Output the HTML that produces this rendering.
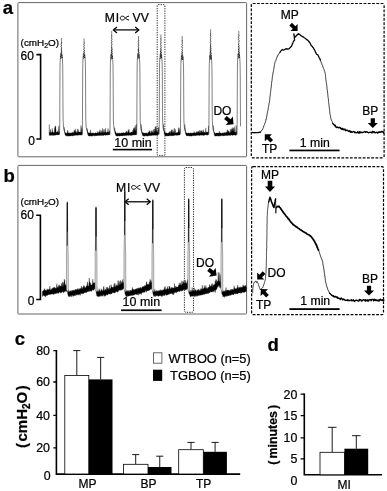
<!DOCTYPE html><html><head><meta charset="utf-8"><title>figure</title>
<style>html,body{margin:0;padding:0;background:#fff}svg{display:block;will-change:transform}text{font-family:"Liberation Sans",sans-serif;fill:#000;stroke:#000;stroke-width:0.22px}</style></head><body>
<svg width="387" height="491" viewBox="0 0 387 491">
<rect width="387" height="491" fill="#fff"/>
<rect x="17.9" y="2.6" width="228.7" height="154.2" rx="0.8" fill="none" stroke="#666" stroke-width="1"/>
<text x="2.7" y="13.8" font-size="18.5" font-weight="bold">a</text>
<text x="20.6" y="46" font-size="9.3" textLength="38.5" lengthAdjust="spacingAndGlyphs">(cmH<tspan font-size="6.5" dy="2">2</tspan><tspan dy="-2">O)</tspan></text>
<text x="20.6" y="59.5" font-size="12">60</text>
<text x="28.2" y="145.2" font-size="12">0</text>
<path d="M36.4 54.6 H40.6 V139 H36.4" fill="none" stroke="#000" stroke-width="1.6"/>
<text x="104.8" y="22.3" font-size="12.2" letter-spacing="0.7">MI</text><path d="M129.1 16.15 C127.45 16.15 126.35 17.23 125.36 18.1 C124.26 19.18 123.49 20.05 122.39 20.05 C120.96 20.05 120.3 19.11 120.3 18.1 C120.3 17.09 120.96 16.15 122.39 16.15 C123.49 16.15 124.26 17.02 125.36 18.1 C126.35 18.97 127.45 20.05 129.1 20.05" fill="none" stroke="#000" stroke-width="1"/><text x="132.5" y="22.3" font-size="12.2">VV</text>
<path d="M113.7 29.9 H138.5" stroke="#000" stroke-width="1.25" fill="none"/><path d="M117 26.9 L113.4 29.9 L117 32.9" stroke="#000" stroke-width="1.25" fill="none"/><path d="M135.2 26.9 L138.8 29.9 L135.2 32.9" stroke="#000" stroke-width="1.25" fill="none"/>
<text x="114.3" y="147.1" font-size="12" textLength="37.5" lengthAdjust="spacingAndGlyphs">10 min</text>
<rect x="112.8" y="148.8" width="39.2" height="1.6" fill="#000"/>
<rect x="157.2" y="4.6" width="7.7" height="150.8" rx="1" fill="none" stroke="#333" stroke-width="1" stroke-dasharray="1.3 1.1"/>
<text x="213.4" y="115.2" font-size="12">DO</text>
<path d="M224.09 119.02 L228.08 122.36 L225.83 125.04 L233.5 124.3 L232.9 116.62 L230.65 119.3 L226.67 115.95Z" fill="#000"/>
<path d="M49.2 132.62 L49.5 132.6 L49.8 132.84 L50.1 131.56 L50.4 129.13 L50.7 132.11 L51 132.83 L51.3 132.21 L51.6 132.54 L51.9 132.48 L52.2 128.21 L52.5 132.02 L52.8 131.62 L53.1 132.2 L53.4 132.53 L53.7 132.87 L54 132.43 L54.3 132.77 L54.6 127.34 L54.9 130.73 L55.2 125.83 L55.5 126.5 L55.8 126.48 L56.1 132.01 L56.4 132.52 L56.7 132.11 L57 132.47 L57.3 130.7 L57.6 132.09 L57.9 132.26 L58.2 132.13 L58.5 132.37 L58.8 125.81 L59.1 131.63 L59.4 131.65 L59.4 134.87 L59.1 134.62 L58.8 134.68 L58.5 134.65 L58.2 134.97 L57.9 134.91 L57.6 134.79 L57.3 134.85 L57 134.85 L56.7 134.76 L56.4 134.99 L56.1 134.94 L55.8 134.9 L55.5 135.28 L55.2 135.35 L54.9 134.89 L54.6 134.88 L54.3 135.28 L54 135.54 L53.7 135.01 L53.4 135.55 L53.1 135.17 L52.8 135.07 L52.5 135.51 L52.2 135.25 L51.9 135.39 L51.6 135.26 L51.3 135.1 L51 134.98 L50.7 135.44 L50.4 135.48 L50.1 135.07 L49.8 135.37 L49.5 135.37 L49.2 135.42Z" fill="#000" stroke="#000" stroke-width="0.25"/>
<path d="M64.2 127.1 L64.5 129.63 L64.8 130.64 L65.1 132.13 L65.4 132.61 L65.7 132.98 L66 133.37 L66.3 133.16 L66.6 133.24 L66.9 133.26 L67.2 133 L67.5 130.19 L67.8 130.38 L68.1 133.16 L68.4 132.69 L68.7 132.92 L69 132.95 L69.3 133.25 L69.6 132.77 L69.9 132.76 L70.2 133.18 L70.5 133.43 L70.8 132.68 L71.1 132.79 L71.4 132.67 L71.7 133.37 L72 133.16 L72.3 132.3 L72.6 132.15 L72.9 132.47 L73.2 132.45 L73.5 133.04 L73.8 132.37 L74.1 130.49 L74.4 132.38 L74.7 130.07 L75 132.83 L75.3 128.73 L75.6 131.27 L75.9 132.21 L76.2 132.46 L76.5 132.93 L76.8 131.44 L77.1 132.85 L77.4 132.3 L77.7 128.82 L78 132.66 L78.3 129.46 L78.6 132.14 L78.9 132.07 L79.2 131.91 L79.5 132.05 L79.8 132.11 L80.1 132.13 L80.4 131.77 L80.7 132.41 L81 125.24 L81.3 131.65 L81.6 131.79 L81.9 127.52 L82.2 131.94 L82.2 134.98 L81.9 134.72 L81.6 134.73 L81.3 135.22 L81 135.07 L80.7 135.1 L80.4 134.94 L80.1 135.26 L79.8 135.31 L79.5 134.79 L79.2 134.78 L78.9 135.02 L78.6 135.14 L78.3 134.92 L78 134.83 L77.7 135.32 L77.4 135.33 L77.1 135.33 L76.8 135.5 L76.5 135.04 L76.2 135.19 L75.9 135.02 L75.6 135.34 L75.3 135.39 L75 135.23 L74.7 135.3 L74.4 135.73 L74.1 135.38 L73.8 135.81 L73.5 135.52 L73.2 135.48 L72.9 135.74 L72.6 135.79 L72.3 135.99 L72 135.86 L71.7 135.82 L71.4 135.49 L71.1 135.86 L70.8 135.99 L70.5 135.95 L70.2 135.93 L69.9 135.94 L69.6 135.85 L69.3 136.05 L69 136.13 L68.7 136.22 L68.4 135.65 L68.1 136.11 L67.8 136.27 L67.5 135.62 L67.2 136.07 L66.9 136.21 L66.6 135.98 L66.3 135.61 L66 135.56 L65.7 135.73 L65.4 135.21 L65.1 134.79 L64.8 133.8 L64.5 132.33 L64.2 129.22Z" fill="#000" stroke="#000" stroke-width="0.25"/>
<path d="M87 128.24 L87.3 129.76 L87.6 131.06 L87.9 132.06 L88.2 132.35 L88.5 132.72 L88.8 133.12 L89.1 133.03 L89.4 133.12 L89.7 132.87 L90 132.87 L90.3 133.13 L90.6 129.77 L90.9 133.18 L91.2 133.14 L91.5 133.58 L91.8 132.77 L92.1 133.2 L92.4 132.88 L92.7 133.31 L93 132.75 L93.3 133.54 L93.6 132.93 L93.9 132.97 L94.2 133.39 L94.5 133.3 L94.8 133.11 L95.1 133.28 L95.4 132.83 L95.7 132.83 L96 132.68 L96.3 133.04 L96.6 133.1 L96.9 133.16 L97.2 133.02 L97.5 132.85 L97.8 131.34 L98.1 132.57 L98.4 133.06 L98.7 132.69 L99 131.64 L99.3 131.86 L99.6 132.91 L99.9 129.6 L100.2 131.02 L100.5 132.58 L100.8 133.01 L101.1 132.85 L101.4 130.53 L101.7 132.97 L102 132.33 L102.3 132.59 L102.6 128.18 L102.9 132.26 L103.2 132.55 L103.5 132.27 L103.8 130.34 L104.1 128.97 L104.4 132.29 L104.7 132.24 L105 132.31 L105.3 131.9 L105.6 128.18 L105.9 132.1 L106.2 132.7 L106.5 132.64 L106.8 132.21 L107.1 132.17 L107.4 131.93 L107.7 131.95 L108 128.39 L108.3 132.03 L108.6 132.18 L108.9 132.2 L109.2 132 L109.5 130.62 L109.8 132.3 L109.8 134.97 L109.5 134.48 L109.2 134.7 L108.9 134.73 L108.6 134.93 L108.3 134.63 L108 134.94 L107.7 134.67 L107.4 134.71 L107.1 135.38 L106.8 135.06 L106.5 134.9 L106.2 134.88 L105.9 134.94 L105.6 135.47 L105.3 135.25 L105 135.19 L104.7 135.07 L104.4 135.01 L104.1 134.87 L103.8 135.39 L103.5 135.43 L103.2 135.54 L102.9 135.47 L102.6 135.5 L102.3 135.37 L102 135.57 L101.7 135.61 L101.4 135.13 L101.1 135.33 L100.8 135.52 L100.5 135.34 L100.2 135.59 L99.9 135.14 L99.6 135.68 L99.3 135.51 L99 135.2 L98.7 135.62 L98.4 135.52 L98.1 135.82 L97.8 135.69 L97.5 135.78 L97.2 135.32 L96.9 135.44 L96.6 136 L96.3 135.55 L96 135.92 L95.7 135.98 L95.4 135.77 L95.1 135.57 L94.8 135.74 L94.5 135.85 L94.2 135.86 L93.9 135.6 L93.6 135.77 L93.3 135.7 L93 135.67 L92.7 135.73 L92.4 136.24 L92.1 135.71 L91.8 136.28 L91.5 136.02 L91.2 135.99 L90.9 135.93 L90.6 136.07 L90.3 135.78 L90 136.32 L89.7 136.26 L89.4 135.84 L89.1 135.97 L88.8 135.8 L88.5 135.64 L88.2 135.63 L87.9 135.03 L87.6 133.87 L87.3 132.6 L87 130.83Z" fill="#000" stroke="#000" stroke-width="0.25"/>
<path d="M114.6 127.46 L114.9 129.59 L115.2 130.95 L115.5 131.65 L115.8 132.12 L116.1 132.69 L116.4 133.49 L116.7 133.42 L117 133.5 L117.3 133.22 L117.6 133.26 L117.9 132.74 L118.2 133.43 L118.5 132.94 L118.8 133.4 L119.1 133.1 L119.4 133.46 L119.7 132.79 L120 133.55 L120.3 133.03 L120.6 133.51 L120.9 133.06 L121.2 133.11 L121.5 132.84 L121.8 133.38 L122.1 132.77 L122.4 133.21 L122.7 132.83 L123 132.9 L123.3 132.98 L123.6 132.55 L123.9 132.8 L124.2 133.02 L124.5 133.07 L124.8 132.96 L125.1 132.96 L125.4 132.54 L125.7 132.53 L126 132.3 L126.3 131.13 L126.6 131 L126.9 132.76 L127.2 132.72 L127.5 132.33 L127.8 132.53 L128.1 130.14 L128.4 132.51 L128.7 130.03 L129 129.16 L129.3 132.14 L129.6 132.81 L129.9 132.7 L130.2 132.44 L130.5 132.59 L130.8 132.43 L131.1 132.22 L131.4 132.1 L131.7 132.1 L132 131.95 L132.3 132.15 L132.6 132.39 L132.9 129.83 L133.2 132.35 L133.5 128.17 L133.8 128.42 L134.1 130.43 L134.4 127.26 L134.7 129.28 L135 127.98 L135.3 125.21 L135.6 131.72 L135.9 130.06 L136.2 131.63 L136.5 124.1 L136.5 134.81 L136.2 135.04 L135.9 134.85 L135.6 134.78 L135.3 134.9 L135 135.12 L134.7 134.78 L134.4 134.8 L134.1 135.3 L133.8 134.82 L133.5 134.93 L133.2 134.94 L132.9 135.02 L132.6 134.87 L132.3 135.35 L132 135.26 L131.7 135.41 L131.4 135.31 L131.1 135.5 L130.8 135.25 L130.5 135.57 L130.2 135.44 L129.9 135.08 L129.6 135.46 L129.3 135.01 L129 135.03 L128.7 135.55 L128.4 135.4 L128.1 135.21 L127.8 135.16 L127.5 135.43 L127.2 135.2 L126.9 135.34 L126.6 135.73 L126.3 135.34 L126 135.79 L125.7 135.57 L125.4 135.45 L125.1 135.31 L124.8 135.74 L124.5 135.72 L124.2 135.83 L123.9 135.65 L123.6 135.39 L123.3 135.62 L123 135.91 L122.7 136.11 L122.4 136.01 L122.1 135.62 L121.8 136.06 L121.5 136.1 L121.2 135.68 L120.9 136 L120.6 135.64 L120.3 135.66 L120 135.8 L119.7 136.23 L119.4 135.8 L119.1 136.08 L118.8 136.12 L118.5 136.08 L118.2 135.72 L117.9 136.31 L117.6 136.18 L117.3 135.81 L117 135.93 L116.7 135.64 L116.4 136.03 L116.1 136.15 L115.8 135.47 L115.5 134.69 L115.2 134.07 L114.9 133.14 L114.6 130.79Z" fill="#000" stroke="#000" stroke-width="0.25"/>
<path d="M141.3 124.42 L141.6 129.5 L141.9 130.84 L142.2 131.99 L142.5 132.35 L142.8 133.29 L143.1 132.85 L143.4 132.8 L143.7 133.33 L144 133.15 L144.3 133.06 L144.6 132.88 L144.9 133.51 L145.2 133.1 L145.5 132.84 L145.8 133.51 L146.1 132.93 L146.4 133.47 L146.7 132.68 L147 133.52 L147.3 133.3 L147.6 133.48 L147.9 133.28 L148.2 132.09 L148.5 132.25 L148.8 132.73 L149.1 130.5 L149.4 131.12 L149.7 132.67 L150 131.37 L150.3 133.1 L150.6 133.15 L150.9 132.72 L151.2 130.44 L151.5 133.11 L151.8 132.21 L152.1 130.56 L152.4 132.45 L152.7 132.55 L153 132.43 L153.3 129.24 L153.6 132.8 L153.9 132.44 L154.2 132.7 L154.5 129.04 L154.8 132.2 L155.1 126.68 L155.4 132.66 L155.7 126.47 L156 131.83 L156.3 126.59 L156.6 132.46 L156.9 131.15 L157.2 132.46 L157.5 132 L157.8 131.9 L158.1 127.63 L158.4 132.38 L158.7 127.3 L158.7 134.84 L158.4 134.78 L158.1 134.55 L157.8 134.83 L157.5 134.81 L157.2 135.31 L156.9 135.03 L156.6 135.08 L156.3 135.28 L156 135.3 L155.7 135.14 L155.4 135.41 L155.1 135.13 L154.8 135.06 L154.5 134.91 L154.2 135.54 L153.9 135.4 L153.6 135.43 L153.3 135.34 L153 135.09 L152.7 135.56 L152.4 135.11 L152.1 135.08 L151.8 135.65 L151.5 135.4 L151.2 135.42 L150.9 135.64 L150.6 135.86 L150.3 135.33 L150 135.69 L149.7 135.43 L149.4 135.43 L149.1 135.87 L148.8 135.62 L148.5 135.89 L148.2 135.82 L147.9 135.9 L147.6 136.19 L147.3 135.91 L147 135.8 L146.7 136.13 L146.4 135.84 L146.1 135.83 L145.8 135.8 L145.5 135.81 L145.2 135.96 L144.9 136.17 L144.6 135.88 L144.3 136.19 L144 135.91 L143.7 136.07 L143.4 136.14 L143.1 135.55 L142.8 135.91 L142.5 135.26 L142.2 134.46 L141.9 133.49 L141.6 132.4 L141.3 129.36Z" fill="#000" stroke="#000" stroke-width="0.25"/>
<path d="M163.5 124.12 L163.8 127.62 L164.1 129.9 L164.4 131.16 L164.7 131.8 L165 132.17 L165.3 133.13 L165.6 133.06 L165.9 132.74 L166.2 132.91 L166.5 133.03 L166.8 133.04 L167.1 133.17 L167.4 133.53 L167.7 133.36 L168 133.36 L168.3 132.69 L168.6 133.17 L168.9 132.86 L169.2 132.13 L169.5 131.7 L169.8 133.19 L170.1 131.03 L170.4 133.39 L170.7 133.13 L171 131.23 L171.3 129.73 L171.6 129.95 L171.9 132.4 L172.2 132.14 L172.5 132.57 L172.8 129.41 L173.1 130.84 L173.4 131.48 L173.7 132.89 L174 132.73 L174.3 127.98 L174.6 132.41 L174.9 132.89 L175.2 128.94 L175.5 132.66 L175.8 132.81 L176.1 132.64 L176.4 132.66 L176.7 132.77 L177 132.43 L177.3 132.58 L177.6 132.39 L177.9 132.22 L178.2 132.05 L178.5 127.73 L178.8 132.39 L179.1 127.64 L179.4 132.34 L179.7 132.48 L180 129.67 L180 135.09 L179.7 134.93 L179.4 134.95 L179.1 135.13 L178.8 134.91 L178.5 135.18 L178.2 135.03 L177.9 135.04 L177.6 135.18 L177.3 135.14 L177 135.42 L176.7 135.13 L176.4 135.46 L176.1 135.05 L175.8 135.09 L175.5 135.09 L175.2 135.32 L174.9 135.66 L174.6 135.2 L174.3 135.2 L174 135.53 L173.7 135.56 L173.4 135.63 L173.1 135.47 L172.8 135.69 L172.5 135.45 L172.2 135.88 L171.9 135.43 L171.6 135.65 L171.3 135.98 L171 135.71 L170.7 135.76 L170.4 135.46 L170.1 135.74 L169.8 135.53 L169.5 135.5 L169.2 136.08 L168.9 135.93 L168.6 136.11 L168.3 136.03 L168 135.62 L167.7 135.79 L167.4 136.06 L167.1 135.93 L166.8 135.62 L166.5 136.09 L166.2 136.19 L165.9 135.77 L165.6 135.91 L165.3 135.92 L165 135.52 L164.7 134.82 L164.4 134.21 L164.1 132.77 L163.8 130.33 L163.5 126.87Z" fill="#000" stroke="#000" stroke-width="0.25"/>
<path d="M184.8 124.45 L185.1 127.87 L185.4 130.42 L185.7 131.29 L186 132.4 L186.3 132.69 L186.6 133.34 L186.9 132.86 L187.2 133.47 L187.5 132.92 L187.8 133.31 L188.1 133.61 L188.4 132.76 L188.7 132.98 L189 132.85 L189.3 133.38 L189.6 133.62 L189.9 132.98 L190.2 133.14 L190.5 132.78 L190.8 132.72 L191.1 133.23 L191.4 133.26 L191.7 133.02 L192 133.18 L192.3 132.81 L192.6 133.32 L192.9 133.28 L193.2 133.16 L193.5 132.8 L193.8 133.04 L194.1 131.58 L194.4 133.1 L194.7 132.67 L195 133.15 L195.3 132.58 L195.6 133.22 L195.9 133.15 L196.2 132.51 L196.5 132.83 L196.8 131.24 L197.1 132.76 L197.4 132.49 L197.7 131.64 L198 132.45 L198.3 131.17 L198.6 131.04 L198.9 132.54 L199.2 132.77 L199.5 132.83 L199.8 129.87 L200.1 132.91 L200.4 130.84 L200.7 132.72 L201 132.53 L201.3 130.61 L201.6 132.79 L201.9 130.25 L202.2 132.58 L202.5 132.84 L202.8 131.55 L203.1 132.55 L203.4 129.72 L203.7 132.27 L204 132.29 L204.3 132.23 L204.6 132.4 L204.9 131.97 L205.2 132.7 L205.5 132.44 L205.8 127.82 L206.1 132.46 L206.4 132.3 L206.7 132.04 L207 132.1 L207.3 132.28 L207.6 132.27 L207.9 131.9 L208.2 132.35 L208.5 125.71 L208.5 134.72 L208.2 134.93 L207.9 135.19 L207.6 135.05 L207.3 134.82 L207 135.18 L206.7 135.01 L206.4 134.82 L206.1 134.68 L205.8 134.83 L205.5 134.97 L205.2 134.83 L204.9 135.02 L204.6 134.97 L204.3 135.23 L204 135.47 L203.7 135.5 L203.4 135.31 L203.1 135.48 L202.8 135.1 L202.5 135.24 L202.2 134.95 L201.9 135.41 L201.6 135.34 L201.3 135.01 L201 135.07 L200.7 135.08 L200.4 135.25 L200.1 135.29 L199.8 135.62 L199.5 135.5 L199.2 135.5 L198.9 135.61 L198.6 135.09 L198.3 135.24 L198 135.38 L197.7 135.21 L197.4 135.31 L197.1 135.52 L196.8 135.58 L196.5 135.35 L196.2 135.56 L195.9 135.84 L195.6 135.47 L195.3 135.77 L195 135.94 L194.7 135.5 L194.4 135.61 L194.1 135.55 L193.8 135.44 L193.5 136.02 L193.2 135.75 L192.9 135.61 L192.6 135.87 L192.3 135.66 L192 136.12 L191.7 136.17 L191.4 136.06 L191.1 136.05 L190.8 136.03 L190.5 135.88 L190.2 135.8 L189.9 135.8 L189.6 136.35 L189.3 135.95 L189 135.75 L188.7 135.68 L188.4 135.75 L188.1 135.99 L187.8 135.79 L187.5 135.67 L187.2 136.1 L186.9 135.72 L186.6 135.99 L186.3 135.41 L186 134.75 L185.7 134.33 L185.4 133.12 L185.1 130.46 L184.8 126.81Z" fill="#000" stroke="#000" stroke-width="0.25"/>
<path d="M213.3 125.49 L213.6 128.85 L213.9 130.88 L214.2 131.98 L214.5 132.3 L214.8 133.42 L215.1 133.54 L215.4 132.88 L215.7 133.39 L216 133.33 L216.3 132.89 L216.6 133.01 L216.9 132.93 L217.2 133.05 L217.5 133.64 L217.8 132.78 L218.1 133.27 L218.4 132.8 L218.7 132.98 L219 133.36 L219.3 131.14 L219.6 133.15 L219.9 132.84 L220.2 133.19 L220.5 132.64 L220.8 133.01 L221.1 133.32 L221.4 133.23 L221.7 133.14 L222 133.27 L222.3 133.17 L222.6 133.12 L222.9 132.52 L223.2 133.14 L223.5 133.1 L223.8 132.88 L224.1 133.18 L224.4 132.65 L224.7 132.41 L225 132.42 L225.3 133.13 L225.6 133.07 L225.9 132.09 L226.2 132.24 L226.5 132.35 L226.8 132.71 L227.1 129.67 L227.4 129.93 L227.7 131.47 L228 132.68 L228.3 131.3 L228.6 130.57 L228.9 132.3 L229.2 131.47 L229.5 132.82 L229.8 132.92 L230.1 132.63 L230.4 129.1 L230.7 132.79 L231 132.01 L231.3 128.55 L231.6 129.58 L231.9 131.94 L232.2 128.73 L232.5 132 L232.8 127.29 L233.1 132.14 L233.4 128.26 L233.7 127.86 L234 132.29 L234.3 131.84 L234.6 126.47 L234.9 131.74 L235.2 132.49 L235.5 132.37 L235.8 131.7 L236.1 125.31 L236.4 131.85 L236.7 132.05 L236.7 134.83 L236.4 134.67 L236.1 135.22 L235.8 135.13 L235.5 135.16 L235.2 135.3 L234.9 134.91 L234.6 135.17 L234.3 134.78 L234 135.11 L233.7 135.08 L233.4 135.01 L233.1 135.07 L232.8 135.17 L232.5 135.39 L232.2 135.26 L231.9 134.93 L231.6 135.07 L231.3 134.98 L231 135.03 L230.7 135.58 L230.4 135.52 L230.1 135.29 L229.8 135.28 L229.5 135.19 L229.2 135.43 L228.9 135.12 L228.6 135.21 L228.3 135.44 L228 135.47 L227.7 135.43 L227.4 135.53 L227.1 135.74 L226.8 135.63 L226.5 135.64 L226.2 135.11 L225.9 135.48 L225.6 135.38 L225.3 135.27 L225 135.68 L224.7 135.89 L224.4 135.4 L224.1 135.62 L223.8 135.82 L223.5 135.88 L223.2 135.64 L222.9 135.54 L222.6 135.39 L222.3 135.71 L222 135.84 L221.7 135.44 L221.4 135.79 L221.1 135.55 L220.8 136.06 L220.5 135.8 L220.2 135.98 L219.9 136.15 L219.6 135.84 L219.3 135.83 L219 136.13 L218.7 135.71 L218.4 136.33 L218.1 136.09 L217.8 135.74 L217.5 136.06 L217.2 135.81 L216.9 135.74 L216.6 136.08 L216.3 136.03 L216 136.16 L215.7 136.12 L215.4 135.88 L215.1 135.76 L214.8 136.18 L214.5 135.25 L214.2 134.57 L213.9 133.04 L213.6 131.27 L213.3 128.14Z" fill="#000" stroke="#000" stroke-width="0.25"/>
<path d="M49.3 124.5 V133.5" stroke="#222" stroke-width="0.6"/>
<path d="M59.6 134.2 L59.75 124.2 L59.85 100 L59.95 75 L60.1 62.39 L60.4 57.39 L60.75 53.39" fill="none" stroke="#000" stroke-width="0.5" stroke-linejoin="round"/>
<path d="M62.05 54.39 L62.4 58.39 L62.7 64.39 L62.85 78 L62.95 102 L63.1 120.2 L63.5 127.2 L64.1 130.7" fill="none" stroke="#000" stroke-width="0.5" stroke-linejoin="round"/>
<path d="M60.26 58.39 L62.45 57.54 L60.32 56.69 L62.31 55.84 L60.65 54.99 L62.18 54.14 L60.6 53.29 L62.16 52.44 L60.89 51.59 L62.05 50.74 L60.9 49.89 L61.99 49.04 L61.07 48.19 L61.66 47.34 L61.04 46.49 L61.56 45.64 L61.03 44.79 L61.55 43.94 L61.35 43.09 L61.63 42.24 L61.4 42" fill="none" stroke="#000" stroke-width="0.7" stroke-linejoin="round"/>
<path d="M61.4 42.5 V38" stroke="#000" stroke-width="0.5"/>
<path d="M82.3 134.2 L82.45 124.2 L82.55 100 L82.65 75 L82.8 62.23 L83.1 57.23 L83.45 53.23" fill="none" stroke="#000" stroke-width="0.5" stroke-linejoin="round"/>
<path d="M84.75 54.23 L85.1 58.23 L85.4 64.23 L85.55 78 L85.65 102 L85.8 120.2 L86.2 127.2 L86.8 130.7" fill="none" stroke="#000" stroke-width="0.5" stroke-linejoin="round"/>
<path d="M82.93 58.23 L85.08 57.38 L83.26 56.53 L85.02 55.68 L83.39 54.83 L84.74 53.98 L83.53 53.13 L84.67 52.28 L83.54 51.43 L84.76 50.58 L83.67 49.73 L84.45 48.88 L83.76 48.03 L84.42 47.18 L83.66 46.33 L84.3 45.48 L83.84 44.63 L84.31 43.78 L83.9 42.93 L84.1 42.5" fill="none" stroke="#000" stroke-width="0.7" stroke-linejoin="round"/>
<path d="M84.1 43 V38.5" stroke="#000" stroke-width="0.5"/>
<path d="M109.9 134.2 L110.05 124.2 L110.15 100 L110.25 75 L110.4 63.21 L110.7 58.21 L111.05 54.21" fill="none" stroke="#000" stroke-width="0.5" stroke-linejoin="round"/>
<path d="M112.35 55.21 L112.7 59.21 L113 65.21 L113.15 78 L113.25 102 L113.4 120.2 L113.8 127.2 L114.4 130.7" fill="none" stroke="#000" stroke-width="0.5" stroke-linejoin="round"/>
<path d="M110.69 59.21 L112.63 58.36 L110.6 57.51 L112.71 56.66 L110.78 55.81 L112.46 54.96 L110.75 54.11 L112.63 53.26 L110.97 52.41 L112.38 51.56 L110.92 50.71 L112.5 49.86 L111.14 49.01 L112.35 48.16 L111.12 47.31 L112.15 46.46 L111.2 45.61 L112.03 44.76 L111.33 43.91 L112.05 43.06 L111.45 42.21 L111.98 41.36 L111.41 40.51 L111.95 39.66 L111.61 38.81 L111.85 37.96 L111.59 37.11 L111.77 36.26 L111.6 35.41 L111.7 35" fill="none" stroke="#000" stroke-width="0.7" stroke-linejoin="round"/>
<path d="M111.7 35.5 V31" stroke="#000" stroke-width="0.5"/>
<path d="M136.7 134.2 L136.85 124.2 L136.95 100 L137.05 75 L137.2 62.57 L137.5 57.57 L137.85 53.57" fill="none" stroke="#000" stroke-width="0.5" stroke-linejoin="round"/>
<path d="M139.15 54.57 L139.5 58.57 L139.8 64.57 L139.95 78 L140.05 102 L140.2 120.2 L140.6 127.2 L141.2 130.7" fill="none" stroke="#000" stroke-width="0.5" stroke-linejoin="round"/>
<path d="M137.54 58.57 L139.45 57.72 L137.64 56.87 L139.47 56.02 L137.62 55.17 L139.45 54.32 L137.7 53.47 L139.29 52.62 L137.86 51.77 L139.11 50.92 L137.79 50.07 L139.01 49.22 L137.95 48.37 L138.92 47.52 L138.24 46.67 L138.79 45.82 L138.24 44.97 L138.83 44.12 L138.19 43.27 L138.68 42.42 L138.22 41.57 L138.76 40.72 L138.5 40" fill="none" stroke="#000" stroke-width="0.7" stroke-linejoin="round"/>
<path d="M138.5 40.5 V36" stroke="#000" stroke-width="0.5"/>
<path d="M159.1 134.2 L159.25 124.2 L159.35 100 L159.45 75 L159.6 62.5 L159.9 57.5 L160.25 53.5" fill="none" stroke="#000" stroke-width="0.5" stroke-linejoin="round"/>
<path d="M161.55 54.5 L161.9 58.5 L162.2 64.5 L162.35 78 L162.45 102 L162.6 120.2 L163 127.2 L163.6 130.7" fill="none" stroke="#000" stroke-width="0.5" stroke-linejoin="round"/>
<path d="M159.81 58.5 L161.87 57.65 L160.02 56.8 L161.93 55.95 L160.05 55.1 L161.75 54.25 L159.99 53.4 L161.76 52.55 L160.08 51.7 L161.51 50.85 L160.25 50 L161.53 49.15 L160.43 48.3 L161.34 47.45 L160.58 46.6 L161.44 45.75 L160.39 44.9 L161.26 44.05 L160.6 43.2 L161.11 42.35 L160.67 41.5 L161.03 40.65 L160.8 39.8 L161.06 38.95 L160.9 38.5" fill="none" stroke="#000" stroke-width="0.7" stroke-linejoin="round"/>
<path d="M160.9 39 V34.5" stroke="#000" stroke-width="0.5"/>
<path d="M180.4 134.2 L180.55 124.2 L180.65 100 L180.75 75 L180.9 63.94 L181.2 58.94 L181.55 54.94" fill="none" stroke="#000" stroke-width="0.5" stroke-linejoin="round"/>
<path d="M182.85 55.94 L183.2 59.94 L183.5 65.94 L183.65 78 L183.75 102 L183.9 120.2 L184.3 127.2 L184.9 130.7" fill="none" stroke="#000" stroke-width="0.5" stroke-linejoin="round"/>
<path d="M181.27 59.94 L183.37 59.09 L181.19 58.24 L183.22 57.39 L181.37 56.54 L183.09 55.69 L181.56 54.84 L182.81 53.99 L181.49 53.14 L182.82 52.29 L181.64 51.44 L182.68 50.59 L181.82 49.74 L182.59 48.89 L181.72 48.04 L182.49 47.19 L181.81 46.34 L182.59 45.49 L181.79 44.64 L182.35 43.79 L182.03 42.94 L182.42 42.09 L182.12 41.24 L182.25 40.39 L182.2 40" fill="none" stroke="#000" stroke-width="0.7" stroke-linejoin="round"/>
<path d="M182.2 40.5 V36" stroke="#000" stroke-width="0.5"/>
<path d="M208.8 134.2 L208.95 124.2 L209.05 100 L209.15 75 L209.3 63.62 L209.6 58.62 L209.95 54.62" fill="none" stroke="#000" stroke-width="0.5" stroke-linejoin="round"/>
<path d="M211.25 55.62 L211.6 59.62 L211.9 65.62 L212.05 78 L212.15 102 L212.3 120.2 L212.7 127.2 L213.3 130.7" fill="none" stroke="#000" stroke-width="0.5" stroke-linejoin="round"/>
<path d="M209.6 59.62 L211.72 58.77 L209.49 57.92 L211.55 57.07 L209.53 56.22 L211.6 55.37 L209.88 54.52 L211.54 53.67 L209.67 52.82 L211.3 51.97 L209.9 51.12 L211.29 50.27 L209.84 49.42 L211.3 48.57 L209.96 47.72 L211.15 46.87 L209.97 46.02 L211.11 45.17 L210.03 44.32 L210.9 43.47 L210.21 42.62 L210.9 41.77 L210.35 40.92 L210.83 40.07 L210.3 39.22 L210.72 38.37 L210.29 37.52 L210.79 36.67 L210.44 35.82 L210.74 34.97 L210.57 34.12 L210.6 33.3" fill="none" stroke="#000" stroke-width="0.7" stroke-linejoin="round"/>
<path d="M210.6 33.8 V29.3" stroke="#000" stroke-width="0.5"/>
<path d="M237 134.2 L237.15 124.2 L237.25 100 L237.35 75 L237.5 62.21 L237.8 57.21 L238.15 53.21" fill="none" stroke="#000" stroke-width="0.5" stroke-linejoin="round"/>
<path d="M239.45 54.21 L239.8 58.21 L240.1 64.21 L240.25 78 L240.35 102 L240.5 126.3" fill="none" stroke="#000" stroke-width="0.5" stroke-linejoin="round"/>
<path d="M237.84 58.21 L239.73 57.36 L237.95 56.51 L239.75 55.66 L237.87 54.81 L239.7 53.96 L238.08 53.11 L239.73 52.26 L238.02 51.41 L239.36 50.56 L238.02 49.71 L239.53 48.86 L238.27 48.01 L239.43 47.16 L238.17 46.31 L239.3 45.46 L238.2 44.61 L239.1 43.76 L238.35 42.91 L239.29 42.06 L238.52 41.21 L239.19 40.36 L238.41 39.51 L239 38.66 L238.47 37.81 L238.9 36.96 L238.53 36.11 L239.05 35.26 L238.8 34.8" fill="none" stroke="#000" stroke-width="0.7" stroke-linejoin="round"/>
<path d="M238.8 35.3 V30.8" stroke="#000" stroke-width="0.5"/>
<rect x="251.3" y="3.5" width="132.8" height="154.3" rx="1.5" fill="none" stroke="#000" stroke-width="1.2" stroke-dasharray="2.8 1.46"/>
<text x="280.8" y="19.2" font-size="12">MP</text>
<path d="M289.36 25.38 L292.76 28.77 L290.53 31 L297.6 31 L297.6 23.93 L295.37 26.16 L291.98 22.76Z" fill="#000"/>
<text x="362.2" y="114.5" font-size="12">BP</text>
<path d="M370.7 118.2 L370.7 123 L367.7 123 L372.8 128 L377.9 123 L374.9 123 L374.9 118.2Z" fill="#000"/>
<text x="262" y="153" font-size="12">TP</text>
<path d="M273.04 139.92 L269.64 136.53 L271.87 134.3 L264.8 134.3 L264.8 141.37 L267.03 139.14 L270.42 142.54Z" fill="#000"/>
<text x="299.8" y="146.8" font-size="12" textLength="30" lengthAdjust="spacingAndGlyphs">1 min</text>
<rect x="289.4" y="149.6" width="50.2" height="1.7" fill="#000"/>
<path d="M252.16 132.39 L252.87 132.7 L253.57 132.57 L254.1 132.84 L254.71 132.55 L255.42 132.59 L255.97 132.76 L256.64 132.63 L257.27 132.6 L257.82 132.74 L258.47 132.47 L259.23 132.31 L259.79 132.05 L260.5 132.2" fill="none" stroke="#000" stroke-width="1.25" stroke-linejoin="round" stroke-linecap="round"/>
<path d="M260.47 132.09 L260.85 131.51 L261.27 131.14 L261.45 130.56 L262.04 129.79 L262.31 129.83 L262.61 129.09 L262.97 128.38 L263.23 127.98 L263.37 127.34 L263.63 126.92 L263.72 125.95 L263.98 125.48 L264.32 124.99 L264.54 124.4 L264.61 123.99 L264.77 123.6 L265.16 122.63 L265.24 122.35 L265.56 121.66 L265.59 121.16 L265.72 120.49 L265.96 120.08 L266.1 118.95 L266.3 118.8 L266.34 117.76 L266.5 117.42 L266.61 117.17 L266.79 116.04 L266.88 115.67 L267 115.04 L267.05 114.49 L267.09 113.83 L267.36 113.1 L267.34 112.97 L267.59 112.21 L267.58 111.36 L267.75 111.27 L267.92 110.65 L267.94 109.75 L268.13 109.4 L268.14 108.82 L268.33 107.72 L268.42 107.33 L268.59 107.06 L268.65 106.31 L268.73 105.77 L268.77 105.15 L268.89 104.45 L269.01 103.71 L269.11 103.11 L269.32 102.61 L269.37 102.04 L269.55 101.31 L269.56 100.79 L269.73 100.1 L269.73 99.44 L269.69 99.14 L269.84 98.25 L269.79 97.99 L269.93 97.33 L270.01 96.67 L270.11 96.29 L270.27 95.37 L270.24 94.64 L270.37 93.96 L270.33 93.81 L270.34 93.12 L270.54 92.43 L270.55 91.59 L270.77 91.36 L270.8 90.36 L270.87 89.83 L270.8 89.41 L270.97 88.56 L271.09 88.22 L271.19 87.82 L271.21 86.87 L271.35 86.48 L271.27 85.95 L271.45 84.99 L271.41 84.23 L271.55 83.77 L271.56 83.16 L271.6 82.69 L271.71 81.96 L271.78 81.48 L272 80.67 L272.07 80.47 L272.08 79.68 L272.19 79.06 L272.24 78.69 L272.34 77.68 L272.25 77.48 L272.39 76.78 L272.44 75.97 L272.58 75.53 L272.82 74.79 L272.84 74.08 L272.87 73.84 L272.95 73.22 L273.19 72.09 L273.36 71.5 L273.39 70.9 L273.6 70.41 L273.68 69.65 L273.74 69.05 L273.69 68.74 L274.03 68.2 L274.11 67.65 L274.14 66.62 L274.25 66.07 L274.35 65.56 L274.46 64.86 L274.61 64.39 L274.67 63.57 L274.78 63.25 L275 62.65 L274.91 61.88 L275.21 61.52 L275.61 61.09 L275.86 60.46 L276.09 59.86 L276.13 58.99 L276.52 58.51 L276.78 57.87 L277.1 56.95 L277.25 56.88 L277.39 55.77 L277.95 55.7 L278.1 54.58 L278.65 54.4 L278.93 53.76 L279.35 53.33 L279.52 52.31 L280 52" fill="none" stroke="#000" stroke-width="0.8" stroke-linejoin="round" stroke-linecap="round"/>
<path d="M280.07 52.29 L280.52 51.46 L280.84 50.95 L281.2 50.72 L281.7 50.13 L282.21 49.5 L282.84 49.77 L283.34 50.23 L283.92 49.99 L284.44 49.79 L285.07 49.3 L285.44 49.09 L285.94 48.61 L286.61 49.03 L287.26 48.84 L287.95 49.1 L288.59 49 L289.14 48.62 L289.5 48.46 L290.01 47.56 L290.53 47.44 L290.99 46.49 L291.6 46.29 L291.72 45.2 L292.07 45 L292.21 44.42 L292.47 43.54 L292.77 43.23 L292.99 42.69 L293.2 41.96 L293.61 41.16 L294.06 40.67 L294.21 40.57 L294.71 40.06 L294.48 39.4 L294.35 38.61 L294.47 37.64 L294.19 37.27 L294.29 36.64 L294.23 35.85 L294.02 35.02 L293.92 34.89 L293.8 33.81 L294 34.36 L294.12 35.08 L294.21 35.92 L294.44 36.57 L294.63 37.18 L294.81 37.55 L295.07 36.95 L295.52 36.76 L296.1 36 L296.38 35.42 L296.94 34.92 L297.45 34.84 L297.83 34.14 L298.38 33.58 L298.79 34.33 L299.55 34.25 L300.06 34.94 L300.49 35.16 L301.12 35.86 L301.73 35.79 L302.33 36.62 L303 36.89 L303.49 36.98 L303.88 37.42 L304.39 37.76 L305.03 38.19 L305.49 38.71 L305.96 38.91 L306.59 39.47 L306.98 39.86 L307.49 40.15 L308.1 40.51 L308.6 41.3 L309.09 41.3 L309.34 42.37 L309.62 42.47 L310.05 43.09 L310.35 43.63 L310.77 44.29 L310.9 45.11 L311.38 45.54 L311.83 46.25 L312.25 46.43 L312.55 47 L313.03 47.54 L313.53 47.98 L313.68 48.57 L314.06 49.22 L314.45 49.58 L314.61 50.03 L314.97 50.69 L315.26 51.6 L315.4 52.23 L315.74 52.52 L316.03 53.4 L316.3 53.69 L316.82 54.4 L317.43 54.61 L317.93 55.03 L318.38 55.98 L318.71 56.65 L318.94 57.18 L319.25 57.79 L319.57 58.01 L319.88 58.68 L320.04 59.65 L320.4 60" fill="none" stroke="#000" stroke-width="1.25" stroke-linejoin="round" stroke-linecap="round"/>
<path d="M320.29 60.01 L320.58 60.76 L320.86 61.41 L321.15 61.84 L321.16 62.43 L321.39 63.21 L321.79 63.39 L321.84 64.2 L322.2 64.96 L322.38 65.03 L322.62 65.57 L322.87 66.58 L323.07 67.22 L323.24 67.85 L323.48 68.17 L323.64 68.68 L323.77 69.15 L324.18 69.78 L324.37 70.7 L324.6 71.13 L324.73 71.57 L324.92 72.39 L325.12 73.16 L325.11 73.75 L325.33 73.96 L325.41 74.75 L325.49 75.44 L325.42 75.74 L325.54 76.46 L325.5 77.28 L325.69 77.64 L325.82 78.1 L325.77 78.9 L325.85 79.34 L325.89 79.77 L326.03 80.65 L326.25 81.31 L326.2 81.77 L326.23 82.4 L326.48 82.79 L326.43 83.72 L326.59 84.24 L326.63 85.06 L326.77 85.27 L326.77 86.34 L326.84 86.48 L326.97 87.02 L326.9 87.94 L327.01 88.67 L327.2 89.05 L327.29 89.87 L327.35 90.37 L327.36 90.79 L327.45 91.92 L327.63 92 L327.51 92.75 L327.74 93.47 L327.68 94.09 L327.86 94.9 L327.9 95.47 L328.04 96.07 L327.96 96.73 L328.04 96.94 L328.19 97.52 L328.16 98.35 L328.32 98.78 L328.5 99.83 L328.45 100.28 L328.48 101.12 L328.5 101.32 L328.59 102.26 L328.72 102.59 L328.76 103.48 L328.79 104.02 L328.97 104.42 L328.95 105.02 L329.03 105.55 L329.14 106.21 L329.13 107.03 L329.23 107.46 L329.4 108.05 L329.34 108.92 L329.55 109.46 L329.48 109.99 L329.63 110.37 L329.69 111.37 L329.74 111.8 L329.79 112.4 L329.85 113.08 L330.03 113.81 L330.1 114.26 L330.13 114.69 L330.41 115.21 L330.49 115.79 L330.54 116.86 L330.6 117.42 L330.68 117.83 L330.97 118.59 L330.97 119.05 L331.28 119.72 L331.51 120.17 L331.62 120.81 L331.91 121.28 L332.24 121.59 L332.42 122.27 L332.63 123.21 L332.8 123.5" fill="none" stroke="#000" stroke-width="0.8" stroke-linejoin="round" stroke-linecap="round"/>
<path d="M332.75 123.54 L333.26 123.93 L333.63 124.43 L334.45 125.08 L334.48 125.77 L335.03 125 L335.62 126 L336.02 127.38 L336.62 127.56 L337.04 127.45 L337.41 126.87 L338.42 127.81 L339.09 127.5 L339.27 127.7 L340.03 127.34 L340.51 128.69 L340.95 128.28 L342.07 129.61 L342.22 128.46 L342.72 128.5 L343.81 129.89 L344.03 129.65 L344.94 129.03 L345.63 130.74 L345.79 130.67 L346.73 130.15 L347.45 130.08 L347.75 130.4 L348.32 131.44 L349 131.22 L349.9 130.67 L349.94 131.53 L350.48 132.3 L351.2 131.5 L351.86 132.34 L352.8 132.22 L352.89 131.68 L353.9 131.47 L354.65 132.7 L354.8 131.82 L355.43 132.5 L355.92 132.5 L356.56 132.81 L357.53 132.38 L357.83 131.45 L358.64 133.19 L359.45 133.01 L359.69 131.68 L360.28 132.75 L361.02 131.98 L362 132.73 L362.37 132.32 L362.97 132.48 L363.65 132.11 L364.19 131.98 L364.83 131.48 L365.49 132.51 L366.08 131.64 L367.12 132.28 L367.51 131.99 L368.4 132.78 L368.84 132.6 L369.51 132.31 L369.94 132.1 L370.61 132.24 L371.24 132.35 L372.03 132.99 L372.24 131.42 L372.9 131.44 L373.87 132.49 L374.11 131.71 L375.13 132.87 L375.61 132.61 L376.26 132.17 L376.62 132.35 L377.58 133.13 L378.21 132.85 L378.22 131.78 L379.47 132.31 L379.75 131.89 L380.61 132.26 L381.31 131.46 L381.92 131.34 L381.92 132.01 L382.88 131.51 L383.44 133 L384 132.2" fill="none" stroke="#000" stroke-width="1.3" stroke-linejoin="round" stroke-linecap="round"/>
<rect x="17.9" y="165.4" width="228.7" height="148.6" rx="0.8" fill="none" stroke="#666" stroke-width="1"/>
<text x="3.6" y="181.6" font-size="18.5" font-weight="bold">b</text>
<text x="20.6" y="205.2" font-size="9.3" textLength="38.5" lengthAdjust="spacingAndGlyphs">(cmH<tspan font-size="6.5" dy="2">2</tspan><tspan dy="-2">O)</tspan></text>
<text x="20.6" y="219" font-size="12">60</text>
<text x="27.8" y="305.2" font-size="12">0</text>
<path d="M36.2 215.2 H40.4 V299.5 H36.2" fill="none" stroke="#000" stroke-width="1.6"/>
<text x="116.1" y="191.6" font-size="12.2" letter-spacing="0.7">MI</text><path d="M140.4 185.45 C138.75 185.45 137.65 186.53 136.66 187.4 C135.56 188.48 134.79 189.35 133.69 189.35 C132.26 189.35 131.6 188.41 131.6 187.4 C131.6 186.39 132.26 185.45 133.69 185.45 C134.79 185.45 135.56 186.32 136.66 187.4 C137.65 188.27 138.75 189.35 140.4 189.35" fill="none" stroke="#000" stroke-width="1"/><text x="143.8" y="191.6" font-size="12.2">VV</text>
<path d="M125.4 201.8 H150" stroke="#000" stroke-width="1.25" fill="none"/><path d="M128.7 198.8 L125.1 201.8 L128.7 204.8" stroke="#000" stroke-width="1.25" fill="none"/><path d="M146.7 198.8 L150.3 201.8 L146.7 204.8" stroke="#000" stroke-width="1.25" fill="none"/>
<text x="122.6" y="306.2" font-size="12" textLength="37.5" lengthAdjust="spacingAndGlyphs">10 min</text>
<rect x="121.1" y="309.4" width="40.5" height="1.7" fill="#000"/>
<rect x="184.4" y="167.5" width="9.1" height="144.8" rx="1.5" fill="none" stroke="#333" stroke-width="1" stroke-dasharray="1.3 1.1"/>
<text x="196" y="267.3" font-size="12">DO</text>
<path d="M207.25 271.06 L211.08 273.95 L208.98 276.74 L216.6 275.6 L215.6 267.96 L213.49 270.75 L209.66 267.86Z" fill="#000"/>
<path d="M42.4 290.97 L42.7 291.43 L43 291.27 L43.3 290.48 L43.6 290.25 L43.9 290.83 L44.2 290.15 L44.5 288.53 L44.8 289.14 L45.1 290.58 L45.4 289.88 L45.7 290.31 L46 290.64 L46.3 290.38 L46.6 290.5 L46.9 289.4 L47.2 289.97 L47.5 289.68 L47.8 288.63 L48.1 289.34 L48.4 289.46 L48.7 290.01 L49 290.25 L49.3 289.01 L49.6 290.08 L49.9 285.94 L50.2 289.95 L50.5 289.9 L50.8 289.68 L51.1 289.5 L51.4 288.63 L51.7 289.62 L52 289.61 L52.3 288.47 L52.6 288.07 L52.9 289.34 L53.2 287.78 L53.5 288.5 L53.8 287.25 L54.1 287.93 L54.4 287.29 L54.7 287.08 L55 288.67 L55.3 288.31 L55.6 287.9 L55.9 288 L56.2 288.26 L56.5 288.59 L56.8 283.68 L57.1 287.01 L57.4 287.75 L57.7 287.39 L58 286.31 L58.3 288.1 L58.6 286.96 L58.9 285.12 L59.2 286.87 L59.5 284.66 L59.8 287.7 L60.1 286.11 L60.4 286.23 L60.7 285.9 L61 286 L61.3 286.96 L61.6 284.17 L61.9 283.16 L62.2 286.49 L62.5 281.75 L62.8 286.98 L63.1 286.22 L63.4 282.3 L63.7 284.49 L64 286.73 L64.3 279.12 L64.6 280.51 L64.9 280.4 L65.2 286.17 L65.5 284.62 L65.8 284.64 L66.1 286.1 L66.4 285.81 L66.7 284.75 L67 284.78 L67.3 282.02 L67.6 289.06 L67.9 289.46 L68.2 290.32 L68.5 290.48 L68.8 291.57 L69.1 291.66 L69.4 290.64 L69.7 291.66 L70 291.64 L70.3 290.93 L70.6 290.64 L70.9 291.17 L71.2 291.51 L71.5 290.41 L71.8 291.81 L72.1 290.71 L72.4 291.14 L72.7 290.06 L73 291.55 L73.3 290.85 L73.6 289.81 L73.9 290.6 L74.2 290.42 L74.5 290.03 L74.8 291.15 L75.1 289.35 L75.4 290.07 L75.7 289.43 L76 290.86 L76.3 289.43 L76.6 289.85 L76.9 289.46 L77.2 289.66 L77.5 288.97 L77.8 288.61 L78.1 288.6 L78.4 289.92 L78.7 290.04 L79 288.77 L79.3 289.18 L79.6 288.6 L79.9 289.84 L80.2 288.99 L80.5 289 L80.8 287.97 L81.1 289.52 L81.4 286.04 L81.7 287.87 L82 288.3 L82.3 287.3 L82.6 288.69 L82.9 288.69 L83.2 287.46 L83.5 285.55 L83.8 286.72 L84.1 288.01 L84.4 285.7 L84.7 287.14 L85 287.49 L85.3 287.94 L85.6 287.87 L85.9 287.09 L86.2 286.13 L86.5 286.08 L86.8 285.67 L87.1 286.27 L87.4 281.82 L87.7 282.51 L88 286.64 L88.3 285.87 L88.6 286.7 L88.9 285.04 L89.2 277.87 L89.5 281.56 L89.8 281.96 L90.1 285.25 L90.4 284.06 L90.7 282.74 L91 284.97 L91.3 285.12 L91.6 284.92 L91.9 285.06 L92.2 284.18 L92.5 284.45 L92.8 279.17 L93.1 282.79 L93.4 282.87 L93.7 282.96 L94 282.82 L94.3 283.24 L94.6 283.26 L94.9 282.4 L95.2 282.79 L95.5 281.68 L95.8 282.57 L96.1 289.16 L96.4 288.86 L96.7 286.19 L97 290.63 L97.3 290.43 L97.6 291.11 L97.9 292.34 L98.2 291.13 L98.5 291.35 L98.8 291.53 L99.1 288.6 L99.4 290.95 L99.7 290.15 L100 292.02 L100.3 291.02 L100.6 291.82 L100.9 290.35 L101.2 288.72 L101.5 289.8 L101.8 290.47 L102.1 290.63 L102.4 291.45 L102.7 290.92 L103 289.65 L103.3 290.88 L103.6 286.84 L103.9 286.38 L104.2 289.54 L104.5 291.02 L104.8 290.79 L105.1 289.41 L105.4 290.32 L105.7 289.25 L106 289.21 L106.3 287.08 L106.6 289.95 L106.9 290.4 L107.2 288.47 L107.5 286.86 L107.8 288.79 L108.1 288.65 L108.4 288.18 L108.7 289.18 L109 289.74 L109.3 289.01 L109.6 285.35 L109.9 287.91 L110.2 288.64 L110.5 288.26 L110.8 288.78 L111.1 284.53 L111.4 287.15 L111.7 286.95 L112 286.77 L112.3 287.49 L112.6 288.32 L112.9 286.88 L113.2 288.08 L113.5 286.9 L113.8 286.48 L114.1 283.62 L114.4 287.34 L114.7 286.29 L115 283.02 L115.3 287.27 L115.6 287.29 L115.9 285.62 L116.2 285.63 L116.5 284.57 L116.8 286.68 L117.1 285.73 L117.4 285.54 L117.7 285.72 L118 280.46 L118.3 280.79 L118.6 286.16 L118.9 284.24 L119.2 285.35 L119.5 284.44 L119.8 281.24 L120.1 285.45 L120.4 280.2 L120.7 283.39 L121 283.91 L121.3 281.34 L121.6 283.12 L121.9 283.84 L122.2 283.35 L122.5 281.88 L122.8 279.37 L123.1 283.78 L123.4 281.75 L123.7 283.5 L124 282.73 L124.3 278.6 L124.6 282.17 L124.9 288.45 L125.2 289.71 L125.5 288.97 L125.8 291.8 L126.1 290.84 L126.4 291.11 L126.7 292.16 L127 290.37 L127.3 291.55 L127.6 290.8 L127.9 292 L128.2 290.32 L128.5 291.76 L128.8 291.8 L129.1 290.39 L129.4 290.73 L129.7 291.77 L130 291.49 L130.3 290.54 L130.6 290.09 L130.9 290.53 L131.2 290.68 L131.5 290.96 L131.8 290.26 L132.1 289.44 L132.4 287.34 L132.7 290.2 L133 288.85 L133.3 289.74 L133.6 289.62 L133.9 290.66 L134.2 289.82 L134.5 290.53 L134.8 289.25 L135.1 289.04 L135.4 289.54 L135.7 289.07 L136 289.19 L136.3 289.29 L136.6 288.85 L136.9 288.32 L137.2 289.69 L137.5 288.68 L137.8 288.07 L138.1 288.62 L138.4 287.66 L138.7 288.68 L139 288.27 L139.3 288.38 L139.6 287.71 L139.9 288.76 L140.2 286.97 L140.5 287.5 L140.8 288.59 L141.1 288.51 L141.4 288.28 L141.7 287.84 L142 287.14 L142.3 287.02 L142.6 286.82 L142.9 286.77 L143.2 286.17 L143.5 287.39 L143.8 286.37 L144.1 286.74 L144.4 286.59 L144.7 285.58 L145 285.02 L145.3 286.21 L145.6 285.67 L145.9 285.63 L146.2 284.5 L146.5 281.89 L146.8 281.75 L147.1 285.06 L147.4 284.42 L147.7 284.35 L148 284.5 L148.3 284.4 L148.6 285.27 L148.9 283.69 L149.2 284.57 L149.5 281.89 L149.8 283.32 L150.1 279.18 L150.4 284.01 L150.7 280.54 L151 281.08 L151.3 283.35 L151.6 282.15 L151.9 281.9 L152.2 279.7 L152.5 283.3 L152.8 287.64 L153.1 288.56 L153.4 290.13 L153.7 291.08 L154 292.28 L154.3 291.04 L154.6 292.04 L154.9 289.21 L155.2 292.16 L155.5 291.34 L155.8 291.24 L156.1 291.48 L156.4 291.14 L156.7 290.31 L157 290.95 L157.3 291.23 L157.6 291.85 L157.9 290.47 L158.2 290.67 L158.5 290.86 L158.8 291.7 L159.1 290.56 L159.4 290.84 L159.7 291.29 L160 289.73 L160.3 289.74 L160.6 291.57 L160.9 290.11 L161.2 291.36 L161.5 290.48 L161.8 291.01 L162.1 289.69 L162.4 290.93 L162.7 290.71 L163 289.85 L163.3 290.21 L163.6 289.57 L163.9 289.54 L164.2 289.45 L164.5 287.2 L164.8 290.73 L165.1 286.32 L165.4 290.27 L165.7 289.97 L166 289.08 L166.3 288.77 L166.6 290.24 L166.9 288.82 L167.2 289.37 L167.5 288.31 L167.8 286.24 L168.1 288.93 L168.4 288.64 L168.7 289.17 L169 289.71 L169.3 286.04 L169.6 288.02 L169.9 286.29 L170.2 289.37 L170.5 288.98 L170.8 288.18 L171.1 288.75 L171.4 287.71 L171.7 287.13 L172 287.77 L172.3 287.63 L172.6 287.79 L172.9 288.54 L173.2 287.92 L173.5 288.43 L173.8 287.83 L174.1 288.24 L174.4 283.5 L174.7 286.97 L175 287.98 L175.3 287.95 L175.6 286.11 L175.9 287.07 L176.2 287.03 L176.5 286.83 L176.8 287.19 L177.1 287.35 L177.4 286.97 L177.7 287.19 L178 286.62 L178.3 286.66 L178.6 285.08 L178.9 285.62 L179.2 282.83 L179.5 284.99 L179.8 285.37 L180.1 284.63 L180.4 284.64 L180.7 282.58 L181 286.05 L181.3 285.12 L181.6 284.97 L181.9 280.72 L182.2 281.41 L182.5 284.04 L182.8 284.16 L183.1 284.25 L183.4 281.78 L183.7 283.79 L184 280.49 L184.3 283.62 L184.6 283.66 L184.9 282.79 L185.2 283.33 L185.5 280.26 L185.8 283.46 L186.1 282.53 L186.4 283.62 L186.7 283.47 L187 283.78 L187.3 281.05 L187.6 281.07 L187.9 279.19 L188.2 282.43 L188.5 281.83 L188.8 285.85 L189.1 289.79 L189.4 289.84 L189.7 290.68 L190 291.8 L190.3 292.26 L190.6 290.54 L190.9 290.65 L191.2 290.41 L191.5 291.16 L191.8 292.23 L192.1 287.42 L192.4 290.93 L192.7 291.57 L193 290.24 L193.3 290.58 L193.6 291.17 L193.9 291.02 L194.2 287.77 L194.5 291.19 L194.8 291.29 L195.1 289.99 L195.4 290.69 L195.7 289.31 L196 291.35 L196.3 291.2 L196.6 291.05 L196.9 289.96 L197.2 290.1 L197.5 290.33 L197.8 290.76 L198.1 289.26 L198.4 291.07 L198.7 289.97 L199 289.31 L199.3 290.22 L199.6 290.84 L199.9 290.65 L200.2 290.52 L200.5 289.88 L200.8 288.58 L201.1 288.66 L201.4 288.65 L201.7 289.62 L202 289.48 L202.3 285.21 L202.6 290.06 L202.9 289.36 L203.2 288.5 L203.5 288.6 L203.8 289.19 L204.1 287.87 L204.4 285.59 L204.7 287.72 L205 288.36 L205.3 288.49 L205.6 288.04 L205.9 285.39 L206.2 288.42 L206.5 288.8 L206.8 287.44 L207.1 288.17 L207.4 288.64 L207.7 288.2 L208 288.37 L208.3 287.25 L208.6 287.57 L208.9 286.97 L209.2 287.67 L209.5 284.33 L209.8 286.11 L210.1 287.12 L210.4 286.53 L210.7 285.66 L211 286.34 L211.3 286.64 L211.6 284.34 L211.9 285.65 L212.2 283.17 L212.5 286.75 L212.8 286.73 L213.1 284.95 L213.4 286.63 L213.7 284.69 L214 284.55 L214.3 284.71 L214.6 284.28 L214.9 284.22 L215.2 280.78 L215.5 284.62 L215.8 279.49 L216.1 279.76 L216.4 279.63 L216.7 282.5 L217 283.27 L217.3 281.11 L217.6 281.01 L217.9 281.5 L218.2 272.36 L218.5 281.03 L218.8 281.42 L219.1 272.41 L219.4 280.84 L219.7 281.64 L220 281.61 L220.3 274.5 L220.6 282.01 L220.9 282.21 L221.2 280.77 L221.5 281.38 L221.8 287.83 L222.1 288.95 L222.4 289.96 L222.7 291.53 L223 291.81 L223.3 291 L223.6 292.48 L223.9 290.62 L224.2 291.15 L224.5 291.61 L224.8 291.86 L225.1 290.36 L225.4 291.99 L225.7 290.97 L226 287.39 L226.3 290.69 L226.6 291.18 L226.9 290 L227.2 289.95 L227.5 290.67 L227.8 289.95 L228.1 290.46 L228.4 289.81 L228.7 290.68 L229 290.32 L229.3 290.29 L229.6 290.99 L229.9 290.77 L230.2 289.9 L230.5 289.43 L230.8 290.47 L231.1 290.68 L231.4 289.5 L231.7 289.59 L232 289.03 L232.3 289.57 L232.6 289.53 L232.9 289.79 L233.2 289.98 L233.5 289.53 L233.8 288.99 L234.1 285.72 L234.4 289.12 L234.7 287.95 L235 289.12 L235.3 288.82 L235.6 288.54 L235.9 289.2 L236.2 288.72 L236.5 288.87 L236.8 288.54 L237.1 287.62 L237.4 287.92 L237.7 284.96 L238 288.12 L238.3 287.62 L238.6 287.27 L238.9 288.81 L239.2 288.05 L239.5 287.42 L239.8 288.01 L240.1 286.62 L240.4 288.5 L240.7 287.27 L241 288.33 L241.3 286.81 L241.6 287.76 L241.9 287.53 L242.2 286.92 L242.5 287.97 L242.8 286.38 L243.1 284.83 L243.4 286.68 L243.7 285.88 L244 285.86 L244.3 286.95 L244.6 286.44 L244.9 285.6 L245.2 285.56 L245.5 285.37 L245.8 286.27 L246.1 286.96 L246.4 286.85 L246.4 291.28 L246.1 290.91 L245.8 291.61 L245.5 291.8 L245.2 291.89 L244.9 292.37 L244.6 292.09 L244.3 292.22 L244 292.09 L243.7 292.51 L243.4 292.06 L243.1 292.42 L242.8 291.79 L242.5 292.11 L242.2 292.56 L241.9 292.73 L241.6 292.64 L241.3 293.23 L241 292.33 L240.7 293.52 L240.4 292.16 L240.1 292.61 L239.8 292.99 L239.5 292.59 L239.2 293.01 L238.9 292.88 L238.6 292.84 L238.3 292.72 L238 293.76 L237.7 293.73 L237.4 294.16 L237.1 292.98 L236.8 293.69 L236.5 293.85 L236.2 293.32 L235.9 293.24 L235.6 294.24 L235.3 293.47 L235 293.83 L234.7 293.38 L234.4 293.43 L234.1 293.94 L233.8 294.92 L233.5 294.96 L233.2 294.6 L232.9 294.42 L232.6 294.13 L232.3 294.01 L232 294.97 L231.7 294.74 L231.4 294.3 L231.1 294.44 L230.8 295.55 L230.5 294.87 L230.2 295.26 L229.9 294.74 L229.6 294.84 L229.3 295.56 L229 295.93 L228.7 295.25 L228.4 296.03 L228.1 295.37 L227.8 296.28 L227.5 295.12 L227.2 296.16 L226.9 295.12 L226.6 295.9 L226.3 296.54 L226 295.68 L225.7 296.56 L225.4 295.62 L225.1 296.32 L224.8 296.15 L224.5 297.55 L224.2 296.2 L223.9 295.9 L223.6 296.39 L223.3 295.96 L223 297.27 L222.7 295.36 L222.4 295.13 L222.1 294.18 L221.8 293.75 L221.5 288.38 L221.2 288.71 L220.9 288.42 L220.6 287.85 L220.3 286.9 L220 287.8 L219.7 287.25 L219.4 285.99 L219.1 285.81 L218.8 285.61 L218.5 286.06 L218.2 286.38 L217.9 287.4 L217.6 286.62 L217.3 287.09 L217 288.58 L216.7 289.12 L216.4 289.58 L216.1 289.9 L215.8 290.13 L215.5 289.48 L215.2 292.73 L214.9 290.63 L214.6 290.11 L214.3 290.85 L214 291.79 L213.7 290.93 L213.4 291.53 L213.1 290.96 L212.8 292.18 L212.5 291.57 L212.2 291 L211.9 292.16 L211.6 291.91 L211.3 291.68 L211 292.06 L210.7 291.84 L210.4 291.56 L210.1 292.05 L209.8 292.9 L209.5 291.94 L209.2 292.86 L208.9 292.1 L208.6 293.46 L208.3 293.41 L208 293.54 L207.7 292.65 L207.4 293.69 L207.1 293.39 L206.8 293.49 L206.5 293.71 L206.2 293.16 L205.9 293.99 L205.6 293.63 L205.3 293.02 L205 294.45 L204.7 293.47 L204.4 293.91 L204.1 294.71 L203.8 294.46 L203.5 293.69 L203.2 294.16 L202.9 294.76 L202.6 294.78 L202.3 294.73 L202 294.97 L201.7 294.89 L201.4 295.2 L201.1 294.2 L200.8 295.13 L200.5 295.18 L200.2 294.99 L199.9 295.34 L199.6 295.47 L199.3 294.37 L199 295.64 L198.7 295.2 L198.4 294.92 L198.1 295.63 L197.8 296.26 L197.5 296.12 L197.2 294.75 L196.9 296.19 L196.6 296.27 L196.3 294.99 L196 295.18 L195.7 296.51 L195.4 296.21 L195.1 295.28 L194.8 296.29 L194.5 296.75 L194.2 295.49 L193.9 295.53 L193.6 295.84 L193.3 295.54 L193 295.77 L192.7 296.1 L192.4 296.1 L192.1 296.41 L191.8 295.55 L191.5 296.43 L191.2 296.06 L190.9 296.35 L190.6 296.37 L190.3 296.89 L190 295.98 L189.7 295.02 L189.4 294.07 L189.1 293.79 L188.8 293.16 L188.5 288.09 L188.2 287.72 L187.9 289.26 L187.6 288.03 L187.3 288.27 L187 289.22 L186.7 289.41 L186.4 289.46 L186.1 288.57 L185.8 289.62 L185.5 290.03 L185.2 290.24 L184.9 289.5 L184.6 289.71 L184.3 289.19 L184 289.86 L183.7 289.25 L183.4 290.1 L183.1 290.28 L182.8 290.58 L182.5 291.01 L182.2 290.12 L181.9 290.37 L181.6 290.47 L181.3 291.42 L181 290.15 L180.7 290.76 L180.4 290.53 L180.1 291.28 L179.8 291.33 L179.5 291.06 L179.2 291.98 L178.9 291.1 L178.6 291.13 L178.3 291.06 L178 291.18 L177.7 291.8 L177.4 291.68 L177.1 292.06 L176.8 291.41 L176.5 292.87 L176.2 292.78 L175.9 291.85 L175.6 292.61 L175.3 291.98 L175 292.32 L174.7 292.22 L174.4 292.81 L174.1 293.54 L173.8 292.32 L173.5 294.95 L173.2 293.04 L172.9 294.66 L172.6 292.99 L172.3 293.97 L172 292.93 L171.7 293.27 L171.4 293.6 L171.1 293.19 L170.8 293.37 L170.5 293.75 L170.2 293.88 L169.9 294.07 L169.6 293.25 L169.3 293.99 L169 294.49 L168.7 294.26 L168.4 293.82 L168.1 294.7 L167.8 294.55 L167.5 295.03 L167.2 294.93 L166.9 295.27 L166.6 294.84 L166.3 295.29 L166 294.39 L165.7 294.1 L165.4 294.11 L165.1 295.42 L164.8 295.49 L164.5 295.36 L164.2 295.52 L163.9 295.27 L163.6 294.88 L163.3 295.45 L163 295.95 L162.7 296.16 L162.4 295.31 L162.1 294.94 L161.8 296.78 L161.5 295.37 L161.2 296.19 L160.9 295.6 L160.6 295.29 L160.3 295.52 L160 296.06 L159.7 295.25 L159.4 295.83 L159.1 296.06 L158.8 296.03 L158.5 295.95 L158.2 296.62 L157.9 295.64 L157.6 295.96 L157.3 295.33 L157 295.55 L156.7 296.14 L156.4 295.45 L156.1 295.53 L155.8 295.43 L155.5 296.59 L155.2 295.55 L154.9 296.58 L154.6 295.73 L154.3 295.61 L154 296.57 L153.7 295.6 L153.4 295.13 L153.1 294.23 L152.8 292.9 L152.5 288.37 L152.2 287.79 L151.9 288.81 L151.6 289.32 L151.3 288.83 L151 288.47 L150.7 289.03 L150.4 289.62 L150.1 289.25 L149.8 290.22 L149.5 290.35 L149.2 289.82 L148.9 290.53 L148.6 290.08 L148.3 290.94 L148 289.9 L147.7 291.16 L147.4 290.75 L147.1 290.44 L146.8 290.27 L146.5 291.26 L146.2 292.43 L145.9 290.69 L145.6 290.62 L145.3 291.34 L145 291.5 L144.7 292.16 L144.4 291.7 L144.1 292.5 L143.8 291.93 L143.5 291.76 L143.2 292.33 L142.9 293.09 L142.6 292.33 L142.3 292.51 L142 292.03 L141.7 293.23 L141.4 293.3 L141.1 294.72 L140.8 293.78 L140.5 292.76 L140.2 293.63 L139.9 293 L139.6 293.89 L139.3 293.71 L139 294 L138.7 295.28 L138.4 293.56 L138.1 293.36 L137.8 293.94 L137.5 294.76 L137.2 294.19 L136.9 293.89 L136.6 294.4 L136.3 294.69 L136 294.15 L135.7 293.88 L135.4 294.18 L135.1 294.48 L134.8 295.09 L134.5 294.41 L134.2 294.61 L133.9 295 L133.6 294.9 L133.3 295.29 L133 295.21 L132.7 294.56 L132.4 295.74 L132.1 294.79 L131.8 295.54 L131.5 295.43 L131.2 295.21 L130.9 295.26 L130.6 295.29 L130.3 295.91 L130 295.69 L129.7 295.81 L129.4 295.94 L129.1 295.65 L128.8 295.91 L128.5 295.9 L128.2 296.23 L127.9 295.32 L127.6 296.12 L127.3 296.71 L127 295.65 L126.7 296.48 L126.4 296.45 L126.1 296.58 L125.8 295.96 L125.5 294.57 L125.2 294.57 L124.9 293.3 L124.6 288.74 L124.3 288.61 L124 288.31 L123.7 288.9 L123.4 288.25 L123.1 288.39 L122.8 289.17 L122.5 289.18 L122.2 289.67 L121.9 289.6 L121.6 290.23 L121.3 289.41 L121 290.1 L120.7 290.54 L120.4 289.82 L120.1 289.9 L119.8 290.12 L119.5 290.3 L119.2 290.29 L118.9 290.44 L118.6 290.51 L118.3 291.56 L118 291.77 L117.7 291.9 L117.4 292.31 L117.1 291.13 L116.8 291.74 L116.5 291.05 L116.2 291.66 L115.9 291.82 L115.6 292.49 L115.3 291.47 L115 292.9 L114.7 292.97 L114.4 292.98 L114.1 292.5 L113.8 293.1 L113.5 292.72 L113.2 292.13 L112.9 292.39 L112.6 293.17 L112.3 292.55 L112 292.6 L111.7 293.66 L111.4 293.98 L111.1 294.04 L110.8 293.57 L110.5 294.36 L110.2 293.03 L109.9 294.34 L109.6 293.28 L109.3 293.93 L109 293.89 L108.7 293.54 L108.4 294.34 L108.1 293.84 L107.8 294.71 L107.5 295.07 L107.2 295.08 L106.9 294.54 L106.6 294.31 L106.3 294.99 L106 295.01 L105.7 296.23 L105.4 295.6 L105.1 294.95 L104.8 295.45 L104.5 295.84 L104.2 296.6 L103.9 294.67 L103.6 294.83 L103.3 294.83 L103 296.08 L102.7 295.29 L102.4 295.25 L102.1 296.38 L101.8 295.16 L101.5 295.24 L101.2 296.17 L100.9 295.99 L100.6 295.57 L100.3 295.58 L100 296.56 L99.7 296.05 L99.4 296.49 L99.1 295.91 L98.8 295.94 L98.5 296.9 L98.2 296.56 L97.9 296.37 L97.6 296.37 L97.3 295.49 L97 296.32 L96.7 295.36 L96.4 293.61 L96.1 293.11 L95.8 288.96 L95.5 288.07 L95.2 288.69 L94.9 288.69 L94.6 288.23 L94.3 289.26 L94 289.74 L93.7 290.36 L93.4 289.51 L93.1 290.17 L92.8 289.23 L92.5 290.04 L92.2 290.32 L91.9 290.75 L91.6 290.76 L91.3 291.61 L91 290.75 L90.7 290.75 L90.4 291.27 L90.1 290.68 L89.8 290.31 L89.5 291.66 L89.2 290.43 L88.9 290.62 L88.6 291.71 L88.3 291.18 L88 291.05 L87.7 291.51 L87.4 291.98 L87.1 291.95 L86.8 292.28 L86.5 292.57 L86.2 292.23 L85.9 293.01 L85.6 291.73 L85.3 292.25 L85 292.47 L84.7 292.03 L84.4 292.92 L84.1 292.71 L83.8 293.53 L83.5 292.83 L83.2 293.84 L82.9 293.25 L82.6 292.98 L82.3 294.21 L82 293.25 L81.7 293.63 L81.4 293.51 L81.1 293.47 L80.8 293.47 L80.5 293.5 L80.2 295.55 L79.9 294.6 L79.6 294.39 L79.3 294.3 L79 294.35 L78.7 294.14 L78.4 295.22 L78.1 294.11 L77.8 295.13 L77.5 294.31 L77.2 294.15 L76.9 294.42 L76.6 294.97 L76.3 295.34 L76 294.51 L75.7 294.47 L75.4 295.7 L75.1 295.25 L74.8 294.72 L74.5 295.89 L74.2 295.54 L73.9 295.82 L73.6 296.01 L73.3 296.41 L73 295.12 L72.7 295.21 L72.4 295.6 L72.1 295.16 L71.8 297.14 L71.5 295.48 L71.2 295.27 L70.9 295.7 L70.6 296.62 L70.3 295.46 L70 295.54 L69.7 296.59 L69.4 296.38 L69.1 296.63 L68.8 296.43 L68.5 296.44 L68.2 295.5 L67.9 294.75 L67.6 293.06 L67.3 291.04 L67 291.05 L66.7 290.92 L66.4 290.95 L66.1 291.96 L65.8 290.66 L65.5 291.14 L65.2 290.83 L64.9 291.23 L64.6 292.19 L64.3 291.11 L64 291.28 L63.7 292.35 L63.4 293.05 L63.1 292.28 L62.8 291.42 L62.5 291.32 L62.2 292.04 L61.9 292.13 L61.6 292.45 L61.3 292.25 L61 293.37 L60.7 293.07 L60.4 292.5 L60.1 291.91 L59.8 291.98 L59.5 291.89 L59.2 292.47 L58.9 293.2 L58.6 293.48 L58.3 292.36 L58 293.07 L57.7 292.43 L57.4 292.73 L57.1 293.73 L56.8 292.73 L56.5 292.86 L56.2 293.51 L55.9 292.85 L55.6 294.1 L55.3 293.59 L55 292.83 L54.7 293.41 L54.4 294.12 L54.1 294.27 L53.8 294.28 L53.5 294.19 L53.2 294.48 L52.9 293.6 L52.6 294.28 L52.3 293.47 L52 294.22 L51.7 293.68 L51.4 294.04 L51.1 294.08 L50.8 294.53 L50.5 294.06 L50.2 294.59 L49.9 294.32 L49.6 294.03 L49.3 295.01 L49 294.63 L48.7 294.11 L48.4 294.9 L48.1 294.38 L47.8 294.66 L47.5 295.56 L47.2 295.03 L46.9 295.35 L46.6 294.84 L46.3 295.48 L46 295.98 L45.7 294.96 L45.4 297.28 L45.1 295.95 L44.8 295.47 L44.5 296.02 L44.2 296.1 L43.9 295.78 L43.6 295.11 L43.3 295.09 L43 295.94 L42.7 296.53 L42.4 296.13Z" fill="#000" stroke="#000" stroke-width="0.3"/>
<path d="M66.4 290 L66.5 254 L66.8 240 L67.15 206.7 L67.3 201.7 L67.5 207.7 L67.85 242 L68.2 256 L68.3 292Z" fill="#e4e4e4" stroke="#555" stroke-width="0.5" stroke-linejoin="round"/>
<path d="M67.15 245.7 L67.2 221.7 L67.3 202.7 L67.45 231.7" fill="none" stroke="#000" stroke-width="0.75"/>
<path d="M95.1 290 L95.2 254 L95.5 240 L95.85 211.6 L96 206.6 L96.2 212.6 L96.55 242 L96.9 256 L97 292Z" fill="#e4e4e4" stroke="#555" stroke-width="0.5" stroke-linejoin="round"/>
<path d="M95.85 250.6 L95.9 226.6 L96 207.6 L96.15 236.6" fill="none" stroke="#000" stroke-width="0.75"/>
<path d="M123.9 290 L124 254 L124.3 240 L124.65 196 L124.8 191 L125 197 L125.35 242 L125.7 256 L125.8 292Z" fill="#e4e4e4" stroke="#555" stroke-width="0.5" stroke-linejoin="round"/>
<path d="M124.65 235 L124.7 211 L124.8 192 L124.95 221" fill="none" stroke="#000" stroke-width="0.75"/>
<path d="M151.9 290 L152 254 L152.3 240 L152.65 204.3 L152.8 199.3 L153 205.3 L153.35 242 L153.7 256 L153.8 292Z" fill="#e4e4e4" stroke="#555" stroke-width="0.5" stroke-linejoin="round"/>
<path d="M152.65 243.3 L152.7 219.3 L152.8 200.3 L152.95 229.3" fill="none" stroke="#000" stroke-width="0.75"/>
<path d="M187.8 290 L187.9 254 L188.2 240 L188.55 203.2 L188.7 198.2 L188.9 204.2 L189.25 242 L189.6 256 L189.7 292Z" fill="#e4e4e4" stroke="#555" stroke-width="0.5" stroke-linejoin="round"/>
<path d="M188.55 242.2 L188.6 218.2 L188.7 199.2 L188.85 228.2" fill="none" stroke="#000" stroke-width="0.75"/>
<path d="M220.9 290 L221 254 L221.3 240 L221.65 203.2 L221.8 198.2 L222 204.2 L222.35 242 L222.7 256 L222.8 292Z" fill="#e4e4e4" stroke="#555" stroke-width="0.5" stroke-linejoin="round"/>
<path d="M221.65 242.2 L221.7 218.2 L221.8 199.2 L221.95 228.2" fill="none" stroke="#000" stroke-width="0.75"/>
<rect x="251.6" y="166.6" width="131.9" height="148" rx="1.5" fill="none" stroke="#000" stroke-width="1.2" stroke-dasharray="2.8 1.46"/>
<text x="261" y="179" font-size="12">MP</text>
<path d="M267.7 180.8 L267.7 186.6 L264.9 186.6 L270 192 L275.1 186.6 L272.3 186.6 L272.3 180.8Z" fill="#000"/>
<text x="267.6" y="276.9" font-size="12">DO</text>
<path d="M262.82 271.26 L259.43 274.66 L257.2 272.43 L257.2 279.5 L264.27 279.5 L262.04 277.27 L265.44 273.88Z" fill="#000"/>
<text x="256" y="308.8" font-size="12">TP</text>
<path d="M268.83 295.04 L265.62 291.48 L267.96 289.37 L260.9 289 L260.53 296.06 L262.87 293.95 L266.08 297.52Z" fill="#000"/>
<text x="362" y="283" font-size="12">BP</text>
<path d="M366.9 285.7 L366.9 290.5 L363.9 290.5 L369 295.5 L374.1 290.5 L371.1 290.5 L371.1 285.7Z" fill="#000"/>
<text x="300.2" y="305.1" font-size="12" textLength="30" lengthAdjust="spacingAndGlyphs">1 min</text>
<rect x="289.4" y="308.2" width="50.2" height="1.8" fill="#000"/>
<path d="M252.61 292.9 L252.68 292.28 L252.76 291.52 L252.62 291.32 L252.79 290.38 L252.82 289.81 L252.83 289.14 L252.87 288.7 L252.97 287.88 L253.01 287.4 L253.17 286.73 L253.27 286.33 L253.28 285.44 L253.49 284.9 L253.51 284.37 L253.62 283.61 L254.03 282.88 L254.38 282.15 L255.24 281.76 L255.85 280.94 L256.08 281.07 L256.23 282.04 L256.42 282.59 L257.16 281.62 L257.64 282.72 L257.96 282.96 L258.16 283.64 L258.45 284.42 L258.5 284.95 L258.7 285.8 L259.08 286.31 L259.1 287.02 L259.35 287.48 L259.65 288.03 L259.76 288.44 L260.11 288.95 L260.28 289.92 L260.73 289.13 L261.23 288.82 L261.82 288.3 L262.4 288 L262.84 287.32 L263.11 286.48 L263.42 285.95 L263.57 285.18 L263.86 285.01 L264.02 283.95 L264.23 283.48 L264.37 282.77 L264.47 282.5 L264.74 281.87 L264.93 281.11 L265.07 280.47 L265.26 279.95 L265.46 279.3 L265.43 278.57 L265.41 278.02 L265.45 277.51 L265.58 277.12 L265.56 276.56 L265.62 275.87 L265.72 274.96 L265.82 274.39 L265.75 273.67 L265.94 273.34 L266.05 272.49 L266.05 271.92 L266.03 271.26 L266.03 270.95 L266.02 270.08 L266.17 269.46 L266.17 268.88 L266.1 268.34 L266.19 267.55 L266.28 266.77 L266.27 266.46 L266.26 265.71 L266.29 264.87 L266.3 264.65 L266.27 263.96 L266.35 263.21 L266.39 262.58 L266.28 261.97 L266.43 261.16 L266.39 260.87 L266.31 260.27 L266.39 259.41 L266.48 258.91 L266.4 258.09 L266.44 257.85 L266.57 257.16 L266.52 256.53 L266.58 255.66 L266.43 255.39 L266.42 254.62 L266.51 254.21 L266.57 253.26 L266.47 252.77 L266.58 252.16 L266.59 251.35 L266.56 251.12 L266.56 250.19 L266.55 249.96 L266.7 249.08 L266.6 248.46 L266.72 248.12 L266.75 247.48 L266.71 246.51 L266.77 245.92 L266.74 245.41 L266.61 244.95 L266.67 244.46 L266.67 243.74 L266.73 242.82 L266.71 242.34 L266.82 241.96 L266.86 241.05 L266.73 240.55 L266.76 239.85 L266.86 239.15 L266.83 238.6 L266.79 238.08 L266.83 237.8 L266.89 236.93 L266.95 236.24 L266.8 235.83 L266.93 235.26 L266.88 234.66 L266.86 234.16 L266.95 233.48 L266.92 232.94 L266.91 232.35 L266.92 231.74 L266.9 230.92 L266.96 230.33 L267.02 229.87 L266.9 229.19 L266.98 228.44 L266.9 228.08 L267.09 227.38 L267.01 226.46 L266.97 225.98 L266.94 225.39 L267 224.8 L266.95 224.06 L267.14 223.66 L267 223 L267.04 222.42 L267.01 221.94 L267.17 221.28 L267.18 220.76 L267.11 220.01 L267.17 219.32 L267.07 218.75 L267.25 218.25 L267.12 217.72 L267.15 216.95 L267.2 216.23 L267.24 215.78 L267.36 215.3 L267.35 214.28 L267.29 213.68 L267.33 213.12 L267.39 212.49 L267.53 211.99 L267.48 211.59 L267.45 210.83 L267.45 210.21 L267.66 209.64 L267.56 209.07 L267.69 208.36 L267.81 207.83 L267.95 207.33 L268.06 206.61 L268.09 205.97 L268.08 205.03 L268.3 204.51 L268.23 204.03 L268.34 203.16 L268.59 202.48 L268.6 202" fill="none" stroke="#000" stroke-width="0.75" stroke-linejoin="round" stroke-linecap="round"/>
<path d="M268.67 201.88 L268.83 201.37 L268.96 200.94 L269.17 200.13 L269.33 199.53 L269.42 199.26 L269.58 198.51 L269.75 198.02 L269.94 197.33 L270.3 197.95 L270.4 198.32 L270.55 198.93 L270.82 199.53 L270.94 200.1 L271.25 200.93 L271.36 201.33 L271.56 202.02 L271.84 202.38 L271.99 203.18 L272.25 203.76 L272.46 204.04 L272.66 204.98 L272.99 205.12 L273.18 205.99 L273.38 206.65 L273.57 207.05 L273.91 207.44 L274.13 206.97 L274.08 206.41 L274.19 205.72 L274.48 205.04 L274.45 204.1 L274.74 203.83 L274.75 203.21 L275 202.12 L275.14 201.39 L275.16 200.8 L275.28 200.27 L275.38 199.82 L275.6 198.9" fill="none" stroke="#000" stroke-width="1.5" stroke-linejoin="round" stroke-linecap="round"/>
<path d="M275.54 198.99 L275.58 199.73 L275.63 200.14 L275.68 200.8 L275.62 201.23 L275.7 202.08 L275.64 202.88 L275.65 203.38 L275.59 203.81 L275.7 204.39 L275.78 205.38 L275.71 205.86 L275.65 206.51 L275.77 206.98 L275.72 207.72 L275.67 208.05 L275.67 208.93 L275.77 209.74 L275.7 210.03 L275.74 210.67 L275.72 211.47 L275.82 211.92 L275.72 212.75 L275.8 213.24 L275.87 212.83 L275.96 212.43 L275.93 211.39 L275.94 210.89 L275.92 210.19 L276.04 209.88 L275.99 209.07 L276.17 208.63 L276.14 207.87 L276.5 207.2" fill="none" stroke="#000" stroke-width="0.8" stroke-linejoin="round" stroke-linecap="round"/>
<path d="M276.59 207.31 L277.05 206.71 L277.59 206.36 L278.24 206.59 L278.92 206.15 L279.37 207.11 L279.73 207.41 L280.21 207.8 L280.61 208.39 L280.99 209.09 L281.55 209.72 L281.83 210.24 L282.26 210.73 L282.65 211.52 L283.04 211.82 L283.36 212.63 L283.8 212.9 L284.3 213.78 L284.62 213.86 L285.07 214.73 L285.28 214.96 L285.83 215.53 L286.08 216.25 L286.46 216.32 L286.94 217.19 L287.32 217.18 L287.56 217.75 L288.07 218.59 L288.34 218.91 L288.84 219.06 L289.26 219.68 L289.54 220.39 L289.95 220.78 L290.24 221.25 L290.64 221.83 L291.15 222.21 L291.5 222.85 L291.92 223.19 L292.21 223.31 L292.72 223.81 L292.91 224.55 L293.63 224.84 L294 225 L294.52 225.55 L295.08 225.87 L295.72 226.61 L296.27 226.58 L296.74 226.93 L297.23 227.46 L297.74 227.97 L298.26 228.34 L298.9 228.61 L299.3 228.72 L299.99 229.5 L300.41 229.72 L301.05 230.18 L301.48 230.21 L302.02 230.81 L302.64 231.17 L303.16 231.49 L303.73 231.75 L304.35 232.36 L304.83 232.63 L305.35 232.68 L306.04 232.99 L306.58 233.71 L306.96 233.94 L307.56 234.4 L308.04 234.41 L308.63 234.68 L309.14 235.05 L309.55 235.61 L310.13 235.6 L310.62 236.32 L311.08 236.43 L311.52 237.02 L311.85 237.37 L312.19 238.01 L312.61 238.6 L312.94 239.1 L313.35 239.67 L313.86 239.93 L314 240.39 L314.3 241.31 L314.69 241.36 L314.81 242.16 L315.18 242.69 L315.53 243.37 L315.67 243.97 L316.01 244.25 L316.23 244.67 L316.48 245.27 L316.8 245.83 L316.99 246.34 L317.19 247.32 L317.51 247.67 L317.69 248.51 L317.91 248.99 L318.16 249.32 L318.5 250" fill="none" stroke="#000" stroke-width="1.7" stroke-linejoin="round" stroke-linecap="round"/>
<path d="M318.5 249.98 L318.74 250.64 L318.94 250.98 L319.06 251.69 L319.3 252.36 L319.42 252.81 L319.61 253.38 L319.93 254.43 L320.12 254.65 L320.32 255.4 L320.46 256.15 L320.67 256.49 L320.85 257.05 L321.25 257.76 L321.43 258.35 L321.56 258.87 L321.84 259.44 L322.06 259.88 L322.26 260.52 L322.5 261.32 L322.69 262.11 L322.79 262.52 L322.78 263.34 L322.85 263.73 L322.95 264.56 L323.19 265.24 L323.19 265.82 L323.4 266.29 L323.45 267.05 L323.57 267.74 L323.76 268.07 L323.79 268.72 L323.97 269.56 L323.98 269.93 L324.04 270.68 L324.19 271.26 L324.24 271.89 L324.22 272.39 L324.44 273.11 L324.54 273.46 L324.65 274.43 L324.66 274.96 L324.66 275.24 L324.74 276.02 L324.96 276.53 L325.05 277.37 L324.95 277.56 L325.22 278.4 L325.26 279.18 L325.24 279.36 L325.43 280.42 L325.42 280.88 L325.42 281.62 L325.62 282.24 L325.8 282.52 L325.86 283.19 L326.16 283.79 L326.26 284.22 L326.35 284.82 L326.54 285.53 L326.83 286.02 L326.85 286.85 L327.16 287.19 L327.2 287.87 L327.31 288.3 L327.7 288.97 L327.92 289.85 L328.26 290.33 L328.58 291.02 L328.92 291.74 L329.05 292.22 L329.32 292.51 L329.7 293.3" fill="none" stroke="#000" stroke-width="0.85" stroke-linejoin="round" stroke-linecap="round"/>
<path d="M329.65 293.11 L330.1 293.6 L330.71 294.3 L331.11 294.61 L331.64 295.06 L331.75 295.37 L332.31 295.82 L333.34 295.75 L333.5 296.67 L334.36 296.4 L334.8 296.97 L335.81 296.39 L336.41 297.53 L337.05 297.45 L337.48 297.02 L337.8 298.37 L338.51 298.27 L339.62 298.48 L340.03 298.62 L340.37 299.52 L341.1 297.92 L341.76 298.76 L342.24 298.92 L342.78 299.98 L343.74 298.94 L344.4 299.63 L344.92 300.16 L345.59 300.44 L346.44 300.11 L346.63 300.22 L347.85 300.5 L347.8 299.63 L348.39 300.4 L349.65 300.52 L350.12 300.34 L350.79 300.43 L351.47 299.81 L351.85 300.75 L352.19 300.71 L353.43 299.84 L353.94 300.97 L354.68 301.4 L355.13 300.72 L355.65 300.43 L356.37 300.23 L357.15 300.59 L357.52 300.52 L358.35 301.09 L359.06 300.84 L359.28 299.55 L359.83 299.69 L360.74 299.67 L361.35 300.87 L361.96 301.07 L362.52 300.35 L363.08 299.69 L363.93 299.65 L364.25 299.92 L365.29 301.14 L365.55 299.78 L366.71 300.37 L367.21 301.1 L367.74 299.72 L368.6 300.86 L368.52 300.97 L369.61 299.62 L370.11 299.72 L370.95 299.87 L371.08 300.73 L371.88 299.41 L372.74 299.34 L373.28 299.92 L373.53 300.85 L374.54 299.24 L375.29 300.31 L375.83 300.55 L375.96 299.74 L376.56 300.64 L377.72 300.22 L378.12 300.96 L378.62 300 L379.04 300.99 L379.53 299.57 L380.65 299.29 L380.78 300.2 L381.41 299.95 L381.86 300.47 L382.49 299.8 L383.11 300.54 L384 300.2" fill="none" stroke="#000" stroke-width="1.4" stroke-linejoin="round" stroke-linecap="round"/>
<text x="14.7" y="345.2" font-size="18.5" font-weight="bold">c</text>
<path d="M53.3 350.7 H56.4 M53.3 382 H56.4 M53.3 415.4 H56.4 M53.3 447.9 H56.4" stroke="#000" stroke-width="1.3" fill="none"/>
<path d="M56.4 350 V474.1 H240.2" stroke="#000" stroke-width="1.6" fill="none"/>
<text x="50" y="355" font-size="12.4" text-anchor="end">80</text>
<text x="50" y="386.3" font-size="12.4" text-anchor="end">60</text>
<text x="50" y="419.7" font-size="12.4" text-anchor="end">40</text>
<text x="50" y="452.2" font-size="12.4" text-anchor="end">20</text>
<text x="50.7" y="479.6" font-size="12.4" text-anchor="end">0</text>
<g transform="translate(26.6 416.6) rotate(-90)"><text x="0" y="0" font-size="15" font-weight="bold" text-anchor="middle"><tspan>(</tspan><tspan dx="1.6">cmH</tspan><tspan font-size="10" dy="3.2">2</tspan><tspan dy="-3.2">O</tspan><tspan dx="1.6">)</tspan></text></g>
<path d="M76.8 375.4 V350.6 M73.2 350.6 H80.4" stroke="#000" stroke-width="0.9" fill="none"/><path d="M100.65 379.4 V357.4 M97.05 357.4 H104.25" stroke="#000" stroke-width="0.9" fill="none"/><rect x="64.8" y="375.4" width="24" height="98.6" fill="#fff" stroke="#000" stroke-width="0.8"/><rect x="88.8" y="379.4" width="23.7" height="94.6" fill="#000"/>
<path d="M135.7 464.3 V454.6 M132.1 454.6 H139.3" stroke="#000" stroke-width="0.9" fill="none"/><path d="M159.75 467 V456.2 M156.15 456.2 H163.35" stroke="#000" stroke-width="0.9" fill="none"/><rect x="123.4" y="464.3" width="24.6" height="9.7" fill="#fff" stroke="#000" stroke-width="0.8"/><rect x="148" y="467" width="23.5" height="7" fill="#000"/>
<path d="M191 449.7 V442.4 M187.4 442.4 H194.6" stroke="#000" stroke-width="0.9" fill="none"/><path d="M215.1 451.8 V442.4 M211.5 442.4 H218.7" stroke="#000" stroke-width="0.9" fill="none"/><rect x="178.7" y="449.7" width="24.6" height="24.3" fill="#fff" stroke="#000" stroke-width="0.8"/><rect x="203.3" y="451.8" width="23.6" height="22.2" fill="#000"/>
<text x="87.5" y="487.6" font-size="12" text-anchor="middle">MP</text>
<text x="148.6" y="487.8" font-size="12" text-anchor="middle">BP</text>
<text x="203.6" y="487.8" font-size="12" text-anchor="middle">TP</text>
<rect x="153.4" y="352.8" width="8.5" height="10.4" fill="#fff" stroke="#444" stroke-width="0.8"/>
<rect x="153" y="369.7" width="9.2" height="11.2" fill="#000"/>
<text x="168.4" y="363.3" font-size="12.4" textLength="82.3" lengthAdjust="spacingAndGlyphs">WTBOO (n=5)</text>
<text x="170" y="379.8" font-size="12.4" textLength="80.7" lengthAdjust="spacingAndGlyphs">TGBOO (n=5)</text>
<text x="267.6" y="351.4" font-size="18.5" font-weight="bold">d</text>
<path d="M300.6 394.1 H304.3 M300.6 415.7 H304.3 M300.6 437.9 H304.3 M300.6 458.9 H304.3" stroke="#000" stroke-width="1.3" fill="none"/>
<path d="M304.3 393.4 V474.8 H382" stroke="#000" stroke-width="1.6" fill="none"/>
<text x="297.4" y="398.5" font-size="12.4" text-anchor="end">20</text>
<text x="297.4" y="420.1" font-size="12.4" text-anchor="end">15</text>
<text x="297.4" y="442.3" font-size="12.4" text-anchor="end">10</text>
<text x="297.4" y="463.3" font-size="12.4" text-anchor="end">5</text>
<text x="297.4" y="484.5" font-size="12.4" text-anchor="end">0</text>
<g transform="translate(277.4 434.8) rotate(-90)"><text x="0" y="0" font-size="12.4" font-weight="bold" text-anchor="middle"><tspan>(</tspan><tspan dx="2">minutes</tspan><tspan dx="2">)</tspan></text></g>
<path d="M332.2 452.3 V427.3 M327.9 427.3 H336.5" stroke="#000" stroke-width="0.9" fill="none"/><path d="M356.3 448.7 V435.7 M352 435.7 H360.6" stroke="#000" stroke-width="0.9" fill="none"/><rect x="320" y="452.3" width="24.4" height="22.5" fill="#fff" stroke="#000" stroke-width="0.8"/><rect x="344.4" y="448.7" width="23.8" height="26.1" fill="#000"/>
<text x="344.2" y="488.6" font-size="12" text-anchor="middle">MI</text>
</svg></body></html>
